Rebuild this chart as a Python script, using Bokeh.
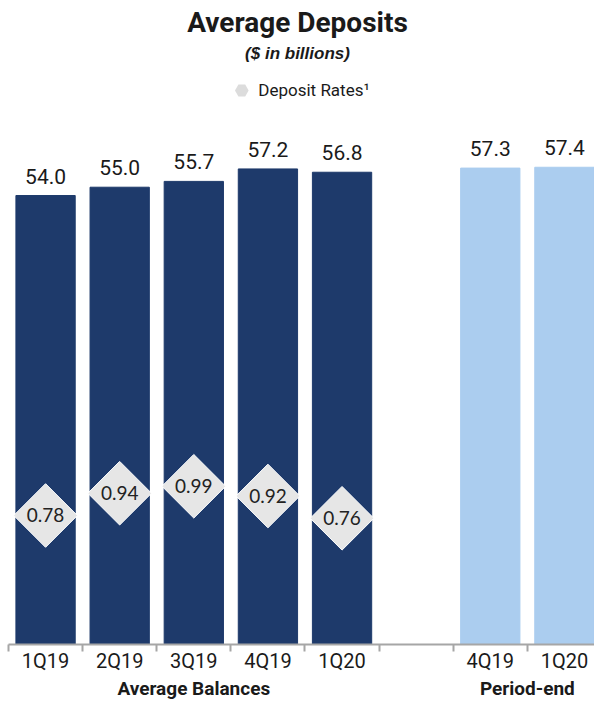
import math
from bokeh.plotting import figure
from bokeh.models import (Range1d, LinearAxis, FixedTicker, ColumnDataSource,
                          Title, Legend, LegendItem)
from bokeh.core.properties import value
from bokeh.embed import file_html
from bokeh.resources import INLINE

# ---------------- data ----------------
categories = ["1Q19", "2Q19", "3Q19", "4Q19", "1Q20", "4Q19", "1Q20"]
groups = ["Average Balances"] * 5 + ["Period-end"] * 2
balances = [54.0, 55.0, 55.7, 57.2, 56.8, 57.3, 57.4]
rate_categories = ["1Q19", "2Q19", "3Q19", "4Q19", "1Q20"]
deposit_rates = [0.78, 0.94, 0.99, 0.92, 0.76]
group_labels = ["Average Balances", "Period-end"]

# ---------------- layout / style ----------------
slots = [0, 1, 2, 3, 4, 6, 7]          # slot 5 is an empty spacer
NAVY = "#1e3a6b"
LIGHT = "#abcdef"
COND = "Roboto"
DARK = "#1a1a1a"

PX_PER_UNIT = 8.3       # bar scale
FRAME_TOP = 62
BASE = 643
RATE_PX = 139.0
RATE_REF_Y = 517

colors = [NAVY if g == group_labels[0] else LIGHT for g in groups]
bar_src = ColumnDataSource(dict(
    x=slots, top=balances, color=colors,
    lab=[f"{v:.1f}" for v in balances]))
rate_src = ColumnDataSource(dict(
    x=slots[:len(deposit_rates)], rate=deposit_rates,
    lab=[f"{v:.2f}" for v in deposit_rates]))

y_end = (BASE - FRAME_TOP) / PX_PER_UNIT
r0 = deposit_rates[-1] - (BASE - RATE_REF_Y) / RATE_PX
r1 = deposit_rates[-1] + (RATE_REF_Y - FRAME_TOP) / RATE_PX

p = figure(width=594, height=702, output_backend="svg", toolbar_location=None,
           x_range=Range1d(-0.608, 7.406), y_range=Range1d(0, y_end),
           x_axis_location=None, y_axis_location=None,
           min_border_left=0, min_border_right=0, min_border_top=0,
           min_border_bottom=0, outline_line_color=None)
p.grid.visible = False
p.extra_y_ranges = {"rate": Range1d(r0, r1)}

p.vbar(x="x", top="top", width=0.8, color="color", source=bar_src)
p.text(x="x", y="top", text="lab", source=bar_src, text_align="center",
       text_baseline="bottom", y_offset=-12, text_font=value(COND),
       text_font_size="21px", text_color=DARK)

dia = p.scatter(x="x", y="rate", source=rate_src, marker="square",
                angle=math.pi / 4, size=45, fill_color="#e6e6e6",
                line_color="white", line_width=1, y_range_name="rate")
p.text(x="x", y="rate", text="lab", source=rate_src, y_range_name="rate",
       text_align="center", text_baseline="middle", text_font=value("Lato"),
       text_font_size="19px", text_color="#222222")

# legend key: same data, zero size so nothing shows in the plot itself
key = p.scatter(x="x", y="rate", source=rate_src, y_range_name="rate",
                marker="hex", size=0, fill_color="#dcdcdc",
                line_color="#c4c4c4", line_alpha=0.0, line_width=1)

# category axis: labels at bar centres, ticks at slot boundaries
bounds = [s - 0.5 for s in range(9)]
xaxis = LinearAxis(
    ticker=FixedTicker(ticks=slots, minor_ticks=bounds),
    major_label_overrides={s: c for s, c in zip(slots, categories)},
    bounds=(-0.5, 7.5), major_tick_out=0, major_tick_in=0,
    minor_tick_out=7, minor_tick_in=0,
    axis_line_color="#a6a6a6", axis_line_width=2,
    minor_tick_line_color="#a6a6a6", minor_tick_line_width=2,
    major_label_text_font=COND, major_label_text_font_size="20px",
    major_label_text_color=DARK, major_label_standoff=-3)
p.add_layout(xaxis, "below")

gpos = {}
for s, g in zip(slots, groups):
    gpos.setdefault(g, []).append(s)
gcent = {g: sum(v) / len(v) for g, v in gpos.items()}
gaxis = LinearAxis(
    ticker=FixedTicker(ticks=[gcent[g] for g in group_labels]),
    major_label_overrides={gcent[g]: g for g in group_labels},
    axis_line_color=None, major_tick_line_color=None,
    minor_tick_line_color=None, major_label_standoff=-5,
    major_label_text_font=COND, major_label_text_font_size="19px",
    major_label_text_font_style="bold", major_label_text_color=DARK)
p.add_layout(gaxis, "below")

legend = Legend(items=[LegendItem(label="Deposit Rates\u00b9", renderers=[key])],
                location="top_center", orientation="horizontal",
                border_line_color=None, background_fill_alpha=0,
                label_text_font=COND, label_text_font_size="17px",
                label_text_color=DARK, glyph_width=34, glyph_height=34,
                padding=0, margin=11, label_standoff=-4)
p.add_layout(legend)

p.add_layout(Title(text="($ in billions)", align="center", standoff=0,
                   text_font="'Liberation Sans', Arial, sans-serif",
                   text_font_size="17px", text_font_style="bold italic",
                   text_color=DARK), "above")
p.add_layout(Title(text="Average Deposits", align="center", text_font=COND,
                   standoff=0, padding=3, text_font_size="28px",
                   text_font_style="bold", text_color=DARK), "above")

open("out.html", "w").write(file_html(p, INLINE))
